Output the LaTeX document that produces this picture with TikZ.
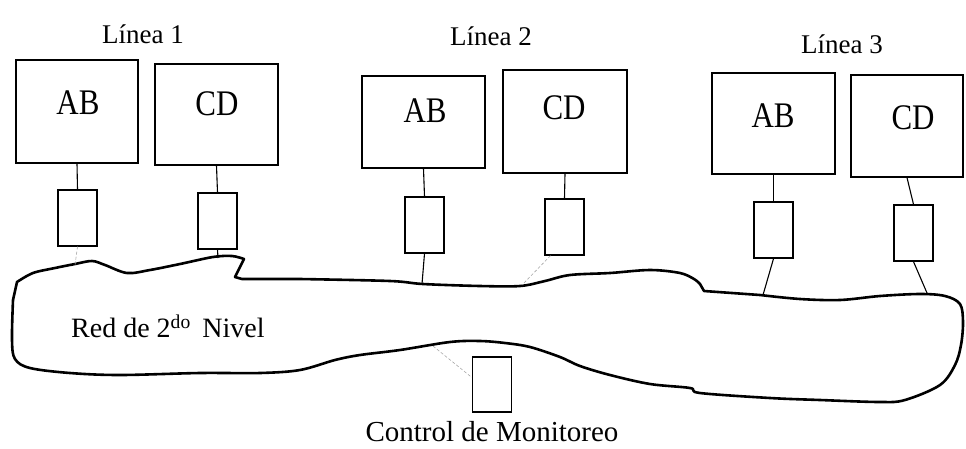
\documentclass[tikz,border=0pt]{standalone}
\usepackage{fontspec}
\setmainfont{Liberation Serif}
\newfontfamily\narrowserif[FakeStretch=0.86]{Liberation Serif}
\begin{document}
\begin{tikzpicture}[x=1pt,y=-1pt,
  bigbox/.style={draw,line width=1.3pt,minimum width=#1,inner sep=0pt},
  unit/.style={draw,line width=1.3pt,minimum width=39pt,minimum height=56pt,inner sep=0pt},
  boxtext/.style={font=\narrowserif\fontsize{36}{36}\selectfont,inner sep=0pt},
  title/.style={font=\fontsize{27}{27}\selectfont,inner sep=0pt},
  wire/.style={line width=1.1pt},
  faint/.style={line width=0.6pt,gray!70,dash pattern=on 3pt off 2pt},
  blob/.style={line width=2.6pt,line join=round}]
\useasboundingbox (0,0) rectangle (966,448);

% line titles
\node[title] (l1) at (143,34) {Línea 1};
\node[title] (l2) at (491,36) {Línea 2};
\node[title] (l3) at (842,44) {Línea 3};

% station boxes
\node[bigbox=122pt,minimum height=103pt] (ab1) at (77,111.5) {};
\node[bigbox=123pt,minimum height=101pt] (cd1) at (216.5,114.5) {};
\node[bigbox=123pt,minimum height=92pt]  (ab2) at (423.5,122) {};
\node[bigbox=124pt,minimum height=103pt] (cd2) at (565,121.5) {};
\node[bigbox=123pt,minimum height=101pt] (ab3) at (773.5,123.5) {};
\node[bigbox=112pt,minimum height=102pt] (cd3) at (907,126) {};

\node[boxtext] (tab1) at (78,103) {AB};
\node[boxtext] (tcd1) at (217,104) {CD};
\node[boxtext] (tab2) at (425,111) {AB};
\node[boxtext] (tcd2) at (564,108) {CD};
\node[boxtext] (tab3) at (773,116) {AB};
\node[boxtext] (tcd3) at (913,118) {CD};

% network interface units
\node[unit] (sab1) at (77.5,218) {};
\node[unit] (scd1) at (217.5,221) {};
\node[unit] (sab2) at (424.5,225) {};
\node[unit] (scd2) at (564.5,227) {};
\node[unit] (sab3) at (773.5,230) {};
\node[unit] (scd3) at (913.5,233) {};
\node[draw,line width=1.3pt,minimum width=39pt,minimum height=55pt,inner sep=0pt] (mon) at (492,384.5) {};

\foreach \n in {ab1,cd1,ab2,cd2,ab3,cd3}
  \draw[wire] (\n.south) -- (s\n.north);

% second level network
\draw[blob] plot[smooth,tension=.55] coordinates {(17,282) (33,273) (55,268) (75,264) (92,261) (105,265) (127,273) (150,270) (180,264) (213,257) (232,256) (244,259)}
  -- (235,277) -- (242,279)
  -- plot[smooth,tension=.55] coordinates {(300,279) (390,281) (423,284) (480,286) (520,286) (545,281) (570,275) (610,273) (650,270) (680,273) (694,279) (700,284)}
  -- (704,291)
  -- plot[smooth,tension=.55] coordinates {(760,295) (800,299) (840,300) (880,296) (920,294) (945,296) (960,304) (963,322) (961,345) (955,365) (940,385) (905,400) (880,402) (820,400) (770,398) (700,393) (690,388) (650,384) (610,375) (580,366) (560,357) (530,347) (505,343) (480,341) (450,342) (400,350) (360,355) (335,360) (300,370) (260,373) (200,373) (120,375) (70,373) (30,368) (15,359) (12,340) (13,300)}
  -- cycle;
\node[inner sep=0pt,anchor=west,font=\fontsize{28}{28}\selectfont] (red) at (71,326) {Red de 2\textsuperscript{do}\, Nivel};

% attachment points on the network outline
\coordinate (nab1) at (75,265);
\coordinate (ncd1) at (218,258);
\coordinate (nab2) at (422,284);
\coordinate (ncd2) at (522,285);
\coordinate (nab3) at (763,295);
\coordinate (ncd3) at (927,293);
\coordinate (nmon) at (433,346);

\draw[faint] (sab1.south) -- (nab1);
\draw[wire] (scd1.south) -- (ncd1);
\draw[wire] (sab2.south) -- (nab2);
\draw[faint] ([xshift=-14pt]scd2.south) -- (ncd2);
\draw[wire] (sab3.south) -- (nab3);
\draw[wire] (scd3.south) -- (ncd3);
\draw[faint] (nmon) -- ([yshift=7pt]mon.west);

\node[inner sep=0pt,font=\fontsize{29}{29}\selectfont] (ctl) at (492,432) {Control de Monitoreo};
\end{tikzpicture}
\end{document}
